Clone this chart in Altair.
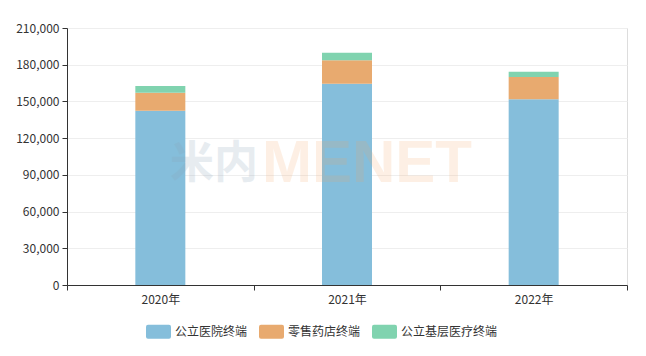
import altair as alt
import pandas as pd

years = ["2020年", "2021年", "2022年"]
series_names = ["公立医院终端", "零售药店终端", "公立基层医疗终端"]
series_colors = ["#85BEDB", "#E8AA6F", "#80D3AF"]
hospital = [142400, 164500, 151700]
retail = [14700, 19100, 18200]
grassroots = [5500, 6200, 4300]
y_ticks = [0, 30000, 60000, 90000, 120000, 150000, 180000, 210000]

rows = []
for i, y in enumerate(years):
    for k, (name, vals) in enumerate(zip(series_names, [hospital, retail, grassroots])):
        rows.append({"year": y, "series": name, "value": vals[i], "order": k})
df = pd.DataFrame(rows)

FONT = "Noto Sans CJK SC"
legend_path = ("M-0.84,-0.56 L0.84,-0.56 Q1,-0.56 1,-0.4 L1,0.4 Q1,0.56 0.84,0.56 "
               "L-0.84,0.56 Q-1,0.56 -1,0.4 L-1,-0.4 Q-1,-0.56 -0.84,-0.56 Z")

bars = alt.Chart(df).mark_bar(size=50).encode(
    x=alt.X("year:N", sort=years, title=None,
            scale=alt.Scale(paddingInner=0, paddingOuter=0),
            axis=alt.Axis(labelAngle=0, tickBand="extent", tickSize=5,
                          tickColor="#333", domainColor="#333",
                          labelColor="#333", labelFontSize=12, labelFont=FONT,
                          labelPadding=4, grid=False)),
    y=alt.Y("value:Q", stack="zero", title=None,
            scale=alt.Scale(domain=[0, 210000], nice=False),
            axis=alt.Axis(values=y_ticks, format=",d", tickSize=5,
                          tickColor="#333", domainColor="#333",
                          labelColor="#333", labelFontSize=12, labelFont=FONT,
                          labelPadding=3, gridColor="#eeeeee")),
    color=alt.Color("series:N", sort=series_names,
                    scale=alt.Scale(domain=series_names, range=series_colors),
                    legend=alt.Legend(title=None, orient="none", direction="horizontal",
                                      legendX=79, legendY=291, padding=0,
                                      symbolType=legend_path, symbolSize=625,
                                      symbolStrokeWidth=0, symbolOpacity=1,
                                      labelFont=FONT, labelFontSize=12,
                                      labelColor="#333", labelOffset=4,
                                      columnPadding=11)),
    order=alt.Order("order:Q", sort="ascending"),
)

wm_df = pd.DataFrame({"t1": ["米内"], "t2": ["MENET"]})
wm1 = alt.Chart(wm_df).mark_text(fontSize=44, fontWeight="bold", font=FONT,
                                 color="#8AA4B8", opacity=0.2, align="left",
                                 baseline="alphabetic").encode(
    text="t1:N", x=alt.value(103), y=alt.value(150))
wm2 = alt.Chart(wm_df).mark_text(fontSize=60, fontWeight="bold", font="Liberation Sans",
                                 color="#F5A25D", opacity=0.16, align="left",
                                 baseline="alphabetic").encode(
    text="t2:N", x=alt.value(195), y=alt.value(154))

chart = alt.layer(bars, wm1, wm2).properties(
    width=560, height=257,
    autosize=alt.AutoSizeParams(type="none"),
    padding={"left": 67, "top": 28, "right": 19, "bottom": 71},
).configure_view(stroke=None).configure(background="white")

chart.save("out.html", embed_options={"renderer": "svg", "actions": False})
